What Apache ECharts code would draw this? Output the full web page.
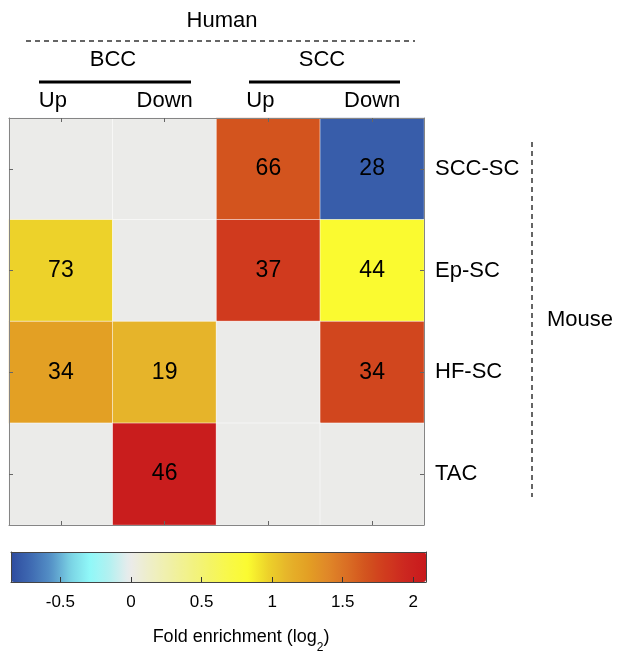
<!DOCTYPE html>
<html>
<head>
<meta charset="utf-8">
<script src="https://cdn.jsdelivr.net/npm/echarts@6/dist/echarts.min.js"></script>
<style>
  html, body { margin: 0; padding: 0; background: #ffffff; }
  #chart { width: 617px; height: 653px; }
</style>
</head>
<body>
<div id="chart"></div>
<script>
// ---- data ----
const rows = ['SCC-SC', 'Ep-SC', 'HF-SC', 'TAC'];
const cols = ['BCC Up', 'BCC Down', 'SCC Up', 'SCC Down'];
const colLabels = ['Up', 'Down', 'Up', 'Down'];

// log2 fold enrichment per mouse row (0 = no enrichment, grey)
const enrichSCCSC = [0, 0, 1.66, -0.77];
const enrichEpSC  = [0.97, 0, 1.81, 0.83];
const enrichHFSC  = [1.25, 1.11, 0, 1.74];
const enrichTAC   = [0, 2.05, 0, 0];

// overlapping gene counts printed in the cells
const countsSCCSC = [null, null, 66, 28];
const countsEpSC  = [73, null, 37, 44];
const countsHFSC  = [34, 19, null, 34];
const countsTAC   = [null, 46, null, null];

const colorbarTicks = [-0.5, 0, 0.5, 1, 1.5, 2];
const colorbarMin = -0.85;
const colorbarMax = 2.09;

const colormap = [
  '#2E4C9F', '#3F6AB2', '#5490C6', '#7AD2E4', '#90F8F8', '#B4F0F0', '#EBEBEB',
  '#EEEEC8', '#F0F0A8', '#F2F288', '#F4F468', '#F8F848', '#FAFA30', '#EDD22A',
  '#E6B42A', '#E3A024', '#E08828', '#DA6E24', '#D2521E', '#D03A1E', '#CC2620', '#C8191C'
];

// ---- build ----
const enrich = [enrichSCCSC, enrichEpSC, enrichHFSC, enrichTAC];
const counts = [countsSCCSC, countsEpSC, countsHFSC, countsTAC];
const data = [];
enrich.forEach((rowVals, ri) => {
  rowVals.forEach((v, ci) => data.push([ci, ri, v, counts[ri][ci]]));
});

const FONT = "'Liberation Sans', Arial, Helvetica, sans-serif";
const frameColor = '#858585';
const tickColor = '#666';

const chart = echarts.init(document.getElementById('chart'), null, { renderer: 'canvas' });

const hiddenCat = (extra) => Object.assign({
  type: 'category', gridIndex: 0, z: 5,
  axisLine: { show: true, lineStyle: { color: frameColor, width: 1 } },
  axisTick: { show: true, inside: true, alignWithLabel: true, length: 4, lineStyle: { color: tickColor } },
  axisLabel: { show: false },
  splitLine: { show: false }
}, extra);

const cbLineAxis = (extra) => Object.assign({
  type: 'value', gridIndex: 1, min: colorbarMin, max: colorbarMax, z: 10,
  axisLine: { show: true, onZero: false, lineStyle: { color: '#444', width: 1 } },
  axisTick: { show: false }, axisLabel: { show: false }, splitLine: { show: false }
}, extra);

const option = {
  backgroundColor: '#ffffff',
  animation: false,
  textStyle: { fontFamily: FONT },
  grid: [
    { left: 9, top: 118, width: 415, height: 407 },
    { left: 11, top: 552, width: 415, height: 30 }
  ],
  xAxis: [
    hiddenCat({ data: cols, position: 'top',
      axisLabel: { show: true, fontSize: 22, color: '#000', margin: 6, fontFamily: FONT,
        formatter: (v, i) => (colLabels[i] === 'Up' ? '{u|Up}' : colLabels[i]),
        rich: { u: { fontSize: 22, color: '#000', fontFamily: FONT, padding: [0, 16, 0, 0] } } } }),
    hiddenCat({ data: cols, position: 'bottom' }),
    cbLineAxis({ position: 'bottom',
      axisTick: { show: true, inside: true, length: 5, customValues: colorbarTicks, lineStyle: { color: '#333' } },
      axisLabel: { show: true, customValues: colorbarTicks, fontSize: 17, color: '#000', margin: 12, fontFamily: FONT,
        formatter: v => String(v) } }),
    cbLineAxis({ position: 'top' })
  ],
  yAxis: [
    hiddenCat({ data: rows, inverse: true, position: 'left' }),
    hiddenCat({ data: rows, inverse: true, position: 'right',
      axisLabel: { show: true, fontSize: 22, color: '#000', margin: 11, fontFamily: FONT } }),
    { type: 'value', gridIndex: 1, min: 0, max: 1, position: 'left', z: 10,
      axisLine: { show: true, onZero: false, lineStyle: { color: '#444' } },
      axisTick: { show: false }, axisLabel: { show: false }, splitLine: { show: false } },
    { type: 'value', gridIndex: 1, min: 0, max: 1, position: 'right', z: 10,
      axisLine: { show: true, onZero: false, lineStyle: { color: '#444' } },
      axisTick: { show: false }, axisLabel: { show: false }, splitLine: { show: false } }
  ],
  visualMap: {
    type: 'continuous',
    min: colorbarMin, max: colorbarMax,
    dimension: 2,
    seriesIndex: 0,
    orient: 'horizontal',
    left: 11, top: 552,
    itemWidth: 30, itemHeight: 415,
    padding: 0,
    text: null,
    calculable: false,
    hoverLink: false,
    showLabel: false,
    inRange: { color: colormap }
  },
  series: [{
    type: 'heatmap',
    xAxisIndex: 0, yAxisIndex: 0,
    data: data,
    itemStyle: { borderColor: 'rgba(255,255,255,0.55)', borderWidth: 1 },
    label: {
      show: true, fontSize: 23, color: '#000', fontFamily: FONT,
      formatter: p => (p.data[3] == null ? '' : String(p.data[3]))
    },
    emphasis: { disabled: true }
  }],
  graphic: [
    { type: 'text', x: 222, y: 21, style: { text: 'Human', font: '22px ' + FONT, fill: '#000', align: 'center', verticalAlign: 'middle' } },
    { type: 'line', shape: { x1: 26, y1: 41, x2: 415, y2: 41 }, style: { stroke: '#333', lineWidth: 1.5, lineDash: [5, 4] } },
    { type: 'text', x: 113, y: 60, style: { text: 'BCC', font: '22px ' + FONT, fill: '#000', align: 'center', verticalAlign: 'middle' } },
    { type: 'line', shape: { x1: 39, y1: 82, x2: 191, y2: 82 }, style: { stroke: '#000', lineWidth: 3 } },
    { type: 'text', x: 322, y: 60, style: { text: 'SCC', font: '22px ' + FONT, fill: '#000', align: 'center', verticalAlign: 'middle' } },
    { type: 'line', shape: { x1: 249, y1: 82, x2: 400, y2: 82 }, style: { stroke: '#000', lineWidth: 3 } },
    { type: 'line', shape: { x1: 532, y1: 142, x2: 532, y2: 497 }, style: { stroke: '#333', lineWidth: 1.5, lineDash: [5, 4] } },
    { type: 'text', x: 547, y: 320, style: { text: 'Mouse', font: '22px ' + FONT, fill: '#000', align: 'left', verticalAlign: 'middle' } },
    { type: 'text', x: 241, y: 641, style: {
        text: '{a|Fold enrichment (log}{b|2}{a|)}', align: 'center', verticalAlign: 'middle', fill: '#000',
        rich: {
          a: { fontSize: 18, fontFamily: FONT, lineHeight: 26, fill: '#000', verticalAlign: 'top' },
          b: { fontSize: 12, fontFamily: FONT, lineHeight: 16, fill: '#000', verticalAlign: 'bottom' }
        }
    } }
  ]
};

chart.setOption(option);
</script>
</body>
</html>
